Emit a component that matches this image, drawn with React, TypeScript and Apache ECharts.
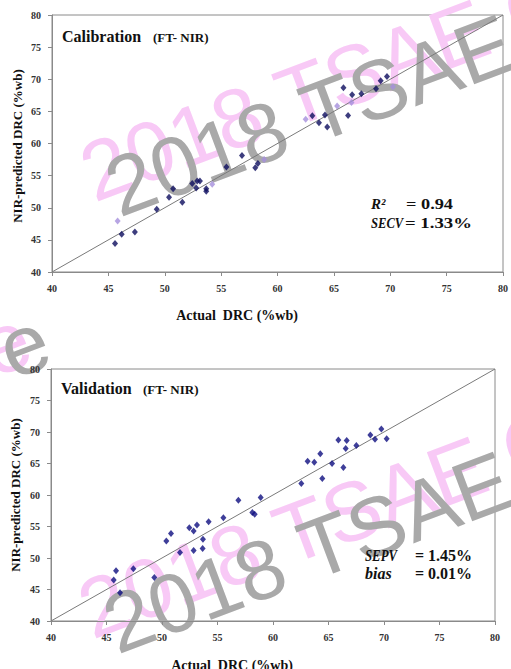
import React, { useEffect, useRef } from "react";
import * as echarts from "echarts";

// ---- Data ----
const axisTicks = [40, 45, 50, 55, 60, 65, 70, 75, 80];

const calActual = [45.59, 45.82, 46.18, 47.35, 49.29, 50.38, 50.74, 51.56, 52.44, 52.79, 52.88, 53.12, 53.68, 53.68, 54.21, 55.47, 56.85, 58.03, 58.26, 58.82, 62.5, 63.09, 63.68, 64.21, 64.41, 65.29, 65.85, 66.26, 66.56, 66.62, 67.44, 68.74, 69.15, 69.71, 70.24];
const calPredicted = [44.42, 47.95, 45.87, 46.23, 49.77, 51.64, 52.94, 50.86, 53.77, 53.09, 54.18, 54.18, 52.94, 52.57, 53.66, 56.36, 58.13, 56.21, 56.88, 57.51, 63.79, 64.31, 63.22, 64.42, 62.55, 65.82, 68.68, 64.36, 66.39, 67.58, 67.74, 68.52, 69.77, 70.44, 68.83];
// 1 = lighter-coloured marker in the reference
const calLight = [0, 1, 0, 0, 0, 0, 0, 0, 0, 0, 0, 0, 0, 0, 1, 0, 0, 0, 0, 1, 1, 0, 0, 0, 0, 1, 0, 0, 1, 0, 0, 0, 0, 0, 1];

const valActual = [45.65, 45.86, 46.22, 47.42, 49.31, 50.39, 50.81, 51.62, 52.46, 52.85, 53.15, 52.85, 53.69, 53.66, 54.2, 55.53, 56.88, 58.14, 58.35, 58.89, 62.55, 63.12, 63.72, 64.26, 64.44, 65.32, 65.89, 66.34, 66.55, 66.64, 67.51, 68.77, 69.19, 69.76, 70.24];
const valPredicted = [46.5, 47.98, 44.49, 48.3, 46.92, 52.68, 53.9, 50.88, 54.8, 54.27, 55.22, 51.2, 52.99, 51.52, 55.75, 56.38, 59.18, 57.23, 56.96, 59.6, 61.82, 65.36, 65.2, 66.53, 62.62, 64.99, 68.75, 64.36, 67.37, 68.64, 67.85, 69.54, 68.85, 70.49, 68.91];

const oneToOne = [
  [axisTicks[0], axisTicks[0]],
  [axisTicks[axisTicks.length - 1], axisTicks[axisTicks.length - 1]],
];

const SERIF = '"Liberation Serif", "Times New Roman", serif';
const SANS = '"Liberation Sans", Arial, sans-serif';

function makeAxis(gridIndex: number) {
  return {
    gridIndex,
    type: "value",
    min: axisTicks[0],
    max: axisTicks[axisTicks.length - 1],
    interval: 5,
    axisLine: { show: true, lineStyle: { color: "#8a8a8a", width: 1 } },
    axisTick: { show: true, length: 4, inside: false, lineStyle: { color: "#8a8a8a" } },
    splitLine: { show: false },
    axisLabel: {
      fontFamily: SERIF,
      fontWeight: "bold",
      fontSize: 10,
      color: "#333",
      margin: 11,
    },
  };
}

function txt(x: number, y: number, text: string, font: string, extra: any = {}) {
  const { style, ...rest } = extra;
  return {
    type: "text",
    x,
    y,
    z: 10,
    ...rest,
    style: {
      text,
      font,
      fill: "#111",
      align: "left",
      verticalAlign: "middle",
      ...(style || {}),
    },
  };
}

function watermark(x: number, y: number, text: string, color: string, align = "left", vAlign = "bottom") {
  return {
    type: "text",
    x,
    y,
    z: 0,
    rotation: 0.36,
    silent: true,
    style: {
      text,
      font: `84px ${SANS}`,
      fill: color,
      align,
      verticalAlign: vAlign,
    },
  };
}

export default function App() {
  const ref = useRef<HTMLDivElement>(null);

  useEffect(() => {
    document.body.style.margin = "0";
    if (!ref.current) return;
    const chart = echarts.init(ref.current, undefined, { renderer: "svg" });

    const calDark = calActual
      .map((x, i) => [x, calPredicted[i], calLight[i]])
      .filter((d) => d[2] === 0)
      .map((d) => [d[0], d[1]]);
    const calLt = calActual
      .map((x, i) => [x, calPredicted[i], calLight[i]])
      .filter((d) => d[2] === 1)
      .map((d) => [d[0], d[1]]);
    const valData = valActual.map((x, i) => [x, valPredicted[i]]);

    const PINK = "#f8c9f6";
    const GREY = "#a9a9a9";

    chart.setOption({
      animation: false,
      backgroundColor: "#ffffff",
      grid: [
        { left: 52, top: 15, width: 454, height: 257, show: true, borderColor: "#8a8a8a", borderWidth: 1, backgroundColor: "transparent" },
        { left: 51, top: 369, width: 444, height: 252, show: true, borderColor: "#8a8a8a", borderWidth: 1, backgroundColor: "transparent" },
      ],
      xAxis: [makeAxis(0), makeAxis(1)],
      yAxis: [makeAxis(0), makeAxis(1)],
      series: [
        {
          type: "line",
          xAxisIndex: 0,
          yAxisIndex: 0,
          data: oneToOne,
          symbol: "none",
          lineStyle: { color: "#7a7a7a", width: 1 },
          z: 3,
        },
        {
          type: "scatter",
          xAxisIndex: 0,
          yAxisIndex: 0,
          data: calDark,
          symbol: "diamond",
          symbolSize: [6, 7],
          itemStyle: { color: "#0d0d5e" },
          z: 4,
        },
        {
          type: "scatter",
          xAxisIndex: 0,
          yAxisIndex: 0,
          data: calLt,
          symbol: "diamond",
          symbolSize: [6, 7],
          itemStyle: { color: "#a58fdc" },
          z: 4,
        },
        {
          type: "line",
          xAxisIndex: 1,
          yAxisIndex: 1,
          data: oneToOne,
          symbol: "none",
          lineStyle: { color: "#7a7a7a", width: 1 },
          z: 3,
        },
        {
          type: "scatter",
          xAxisIndex: 1,
          yAxisIndex: 1,
          data: valData,
          symbol: "diamond",
          symbolSize: [6, 7],
          itemStyle: { color: "#0e0e80" },
          z: 4,
        },
      ],
      graphic: [
        // watermarks
        watermark(99, 215, "2018 TSAE C", PINK),
        watermark(124, 230, "2018 TSAE C", GREY),
        watermark(97, 652, "2018 TSAE C", PINK),
        watermark(122, 667, "2018 TSAE C", GREY),
        watermark(5, 343, "e", PINK, "center", "middle"),
        watermark(24, 345, "e", GREY, "center", "middle"),

        // Calibration panel
        txt(62, 36, "Calibration", `bold 16px ${SERIF}`),
        txt(153, 37, "(FT- NIR)", `bold 13px ${SERIF}`),
        txt(371, 204, "R²", `italic bold 15px ${SERIF}`),
        txt(406, 204, "= 0.94", `bold 15px ${SERIF}`, { scaleX: 1.22 }),
        txt(371, 223, "SECV", `italic bold 15px ${SERIF}`, { scaleX: 0.84 }),
        txt(405, 223, "= 1.33%", `bold 15px ${SERIF}`, { scaleX: 1.25 }),
        txt(237, 315, "Actual  DRC (%wb)", `bold 14px ${SERIF}`, { style: { align: "center" } }),
        txt(17, 146, "NIR-predicted DRC (%wb)", `bold 13px ${SERIF}`, {
          rotation: Math.PI / 2,
          style: { align: "center" },
        }),

        // Validation panel
        txt(61, 388, "Validation", `bold 16px ${SERIF}`),
        txt(143, 389, "(FT- NIR)", `bold 13px ${SERIF}`),
        txt(365, 555, "SEPV", `italic bold 16px ${SERIF}`, { scaleX: 0.8 }),
        txt(415, 555, "= 1.45%", `bold 16px ${SERIF}`),
        txt(365, 573, "bias", `italic bold 16px ${SERIF}`),
        txt(415, 573, "= 0.01%", `bold 16px ${SERIF}`),
        txt(232, 665, "Actual  DRC (%wb)", `bold 14px ${SERIF}`, { style: { align: "center" } }),
        txt(15, 495, "NIR-predicted DRC (%wb)", `bold 13px ${SERIF}`, {
          rotation: Math.PI / 2,
          style: { align: "center" },
        }),
      ],
    });

    return () => {
      chart.dispose();
    };
  }, []);

  return <div ref={ref} style={{ width: 511, height: 669 }} />;
}
